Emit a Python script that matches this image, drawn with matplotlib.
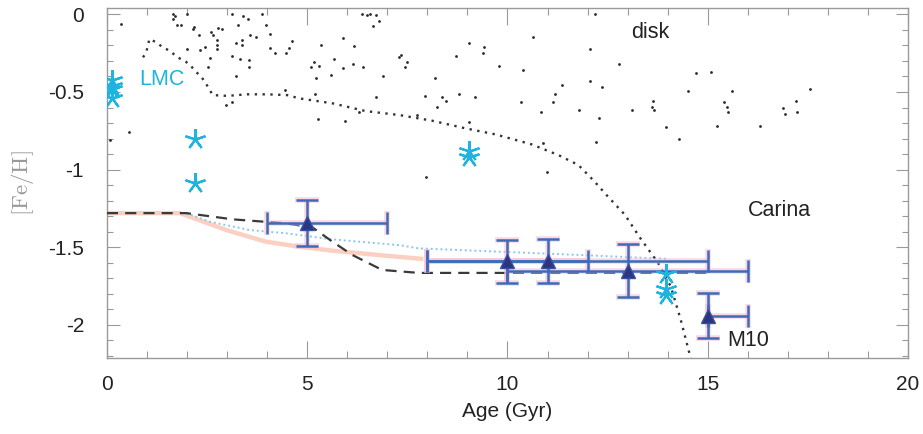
import matplotlib
matplotlib.use("Agg")
import matplotlib.pyplot as plt
from matplotlib.ticker import MultipleLocator, FixedLocator, FixedFormatter

plt.rcParams['font.family'] = ['Liberation Sans', 'DejaVu Sans']
plt.rcParams['axes.unicode_minus'] = False
plt.rcParams['mathtext.fontset'] = 'cm'

# ---------------- data ----------------
disk_age = [0.35, 1.66, 1.70, 1.99, 1.64, 1.74, 1.84, 2.17, 2.14, 2.30, 2.59, 2.64, 2.78, 2.86,
            2.74, 2.75, 2.74, 2.45, 2.32, 2.01, 2.57, 2.53, 3.11, 3.40, 3.86, 3.28, 3.51, 3.58,
            3.73, 3.96, 4.08, 3.23, 3.36, 3.37, 3.11, 3.32, 3.55, 3.54, 3.23, 4.08, 4.19, 4.63,
            4.54, 4.48, 0.54, 0.08, 2.97, 3.13, 4.44,
            6.38, 6.50, 6.58, 6.71, 6.79, 6.64, 5.90, 6.18, 5.34, 5.68, 5.17, 5.30, 5.09, 5.22,
            5.59, 5.90, 6.15, 6.40, 6.89, 7.29, 7.35, 7.50, 7.44, 6.72, 5.20, 5.26, 5.94, 6.29,
            7.74, 7.94, 8.24, 8.37, 8.47, 8.20, 8.72, 8.78, 9.04, 9.42, 9.40, 9.18, 9.04, 7.97,
            12.18, 10.65, 12.06, 12.78, 9.80, 10.40, 12.06, 11.35, 12.36, 11.19, 11.13, 10.34,
            10.83, 11.79, 12.28, 13.12, 13.63, 13.61, 13.66, 13.95, 14.28, 14.50, 14.71, 10.88,
            10.98, 12.22,
            15.08, 15.60, 15.40, 15.47, 15.51, 15.23, 16.31, 16.89, 16.92, 17.20, 17.24, 17.55]
disk_feh = [-0.062, 0.0, -0.01, 0.0, -0.032, -0.069, -0.069, -0.084, -0.095, -0.133, -0.112,
            -0.133, -0.09, -0.095, -0.165, -0.198, -0.22, -0.21, -0.23, -0.225, -0.28, -0.337,
            0.0, -0.01, 0.0, -0.069, -0.03, -0.133, -0.144, -0.069, -0.129, -0.183, -0.165,
            -0.198, -0.266, -0.288, -0.296, -0.337, -0.40, -0.215, -0.247, -0.172, -0.215,
            -0.247, -0.756, -0.81, -0.584, -0.567, -0.49,
            0.0, -0.005, 0.0, -0.005, -0.041, -0.073, -0.155, -0.206, -0.198, -0.288, -0.309,
            -0.331, -0.339, -0.408, -0.391, -0.348, -0.318, -0.337, -0.399, -0.277, -0.262,
            -0.309, -0.339, -0.535, -0.515, -0.674, -0.685, -0.631, -0.648, -0.524, -0.595,
            -0.535, -0.556, -0.412, -0.266, -0.515, -0.183, -0.208, -0.247, -0.535, -0.696,
            -1.046,
            0.0, -0.144, -0.226, -0.32, -0.331, -0.359, -0.43, -0.455, -0.47, -0.515, -0.567,
            -0.567, -0.627, -0.618, -0.666, -0.618, -0.556, -0.595, -0.614, -0.728, -0.80,
            -0.494, -0.38, -0.827, -1.013, -0.82,
            -0.37, -0.492, -0.567, -0.595, -0.627, -0.717, -0.717, -0.605, -0.644, -0.556,
            -0.627, -0.483]

model_age = [0.9, 0.98, 1.06, 1.23, 1.37, 1.53, 1.81, 1.97, 2.11, 2.22, 2.35, 2.47, 2.55, 2.64,
             3.0, 3.5, 4.0, 4.5, 4.8, 5.63, 6.46, 7.29, 8.12, 8.95, 9.70, 10.6, 11.27, 11.77,
             12.15, 12.51, 12.93, 13.34, 13.76, 14.08, 14.33, 14.54, 14.62]
model_feh = [-0.277, -0.245, -0.159, -0.18, -0.208, -0.23, -0.283, -0.305, -0.337, -0.37, -0.40,
             -0.445, -0.48, -0.52, -0.525, -0.515, -0.515, -0.52, -0.541, -0.573, -0.623,
             -0.648, -0.685, -0.734, -0.773, -0.837, -0.906, -0.97, -1.07, -1.174, -1.29,
             -1.45, -1.60, -1.754, -1.97, -2.18, -2.25]

dash_age = [0, 1.98, 3.14, 4.47, 5.13, 5.63, 6.13, 6.87, 7.79, 15.0]
dash_feh = [-1.28, -1.28, -1.32, -1.346, -1.372, -1.464, -1.55, -1.646, -1.665, -1.665]

salmon_age = [0, 1.82, 2.98, 3.97, 4.80, 5.63, 7.0, 7.9]
salmon_feh = [-1.28, -1.28, -1.389, -1.464, -1.496, -1.522, -1.555, -1.575]

blue_age = [1.98, 2.56, 3.56, 4.47, 5.63, 7.29, 7.79, 11.84, 14.0]
blue_feh = [-1.28, -1.335, -1.389, -1.41, -1.449, -1.486, -1.507, -1.55, -1.575]

star_age = [0.12, 0.12, 0.12, 0.12, 2.19, 2.19, 9.03, 9.03, 13.96, 13.96, 13.96]
star_feh = [-0.42, -0.46, -0.48, -0.54, -0.80, -1.085, -0.88, -0.92, -1.67, -1.77, -1.81]

gc_age = [5, 10, 11, 13, 15]
gc_feh = [-1.343, -1.59, -1.587, -1.65, -1.94]
gc_xlo = [1, 2, 3, 3, 0]
gc_xhi = [2, 2, 4, 3, 1]
gc_yerr = [0.148, 0.14, 0.14, 0.17, 0.143]

xticks = [0, 5, 10, 15, 20]
xlabels = ['0', '5', '10', '15', '20']
yticks = [0, -0.5, -1, -1.5, -2]
ylabels = ['0', '-0.5', '-1', '-1.5', '-2']

# ---------------- figure ----------------
fig = plt.figure(figsize=(9.23, 4.34), dpi=100)
ax = fig.add_axes([0.1159, 0.1751, 0.8678, 0.8058])

ax.plot(disk_age, disk_feh, 'o', ms=2.0, color='#2a2a2a', mec='none', zorder=2)
ax.plot(model_age, model_feh, color='#333333', lw=1.7, dashes=(1, 2.3), zorder=3)
ax.plot(salmon_age, salmon_feh, color='#fbd0c2', lw=3.2, solid_capstyle='butt', zorder=2)
ax.plot(blue_age, blue_feh, color='#8cc6ea', lw=1.4, dashes=(1, 1.5), zorder=2)
ax.plot(dash_age, dash_feh, color='#3a3a3a', lw=1.6, dashes=(5, 3.2), zorder=3)

# error bars with faint pink halo
ax.errorbar(gc_age, gc_feh, xerr=[gc_xlo, gc_xhi], yerr=gc_yerr, fmt='none',
            ecolor='#f6b7d0', elinewidth=4, capsize=8.5, capthick=4, alpha=0.55, zorder=4)
ax.errorbar(gc_age, gc_feh, xerr=[gc_xlo, gc_xhi], yerr=gc_yerr, fmt='none',
            ecolor='#3b6cb8', elinewidth=1.8, capsize=8, capthick=1.8, zorder=5)
ax.plot(gc_age, gc_feh, '^', ms=10, color='#2b3580', mec='#3b4fa0', mew=1, zorder=6)

ax.plot(star_age, star_feh, linestyle='none', marker=(5, 2, 0), ms=15, mew=1.6,
        color='#1db5e0', zorder=6)

ax.text(0.81, -0.42, 'LMC', color='#1db5e0', fontsize=15.5, va='center', ha='left')
ax.text(13.1, -0.12, 'disk', color='#222222', fontsize=15.5, va='center', ha='left')
ax.text(16.0, -1.26, 'Carina', color='#222222', fontsize=15.5, va='center', ha='left')
ax.text(15.5, -2.1, 'M10', color='#222222', fontsize=15.5, va='center', ha='left')

ax.set_xlim(0, 20)
ax.set_ylim(-2.213, 0.039)
ax.xaxis.set_major_locator(FixedLocator(xticks))
ax.xaxis.set_major_formatter(FixedFormatter(xlabels))
ax.xaxis.set_minor_locator(MultipleLocator(1))
ax.yaxis.set_major_locator(FixedLocator(yticks))
ax.yaxis.set_major_formatter(FixedFormatter(ylabels))
ax.yaxis.set_minor_locator(MultipleLocator(0.1))

ax.tick_params(which='both', direction='in', top=True, right=True, color='#999999',
               width=0.8, labelsize=15, labelcolor='#222222')
ax.tick_params(axis='x', which='major', length=12, pad=12)
ax.tick_params(axis='x', which='minor', length=5)
ax.tick_params(axis='y', which='major', length=9, pad=16.5)
ax.tick_params(axis='y', which='minor', length=4)
for s in ax.spines.values():
    s.set_color('#9a9a9a')
    s.set_linewidth(1.0)

ax.set_xlabel('Age (Gyr)', fontsize=15, color='#222222', labelpad=6)
ax.set_ylabel(r'$\mathrm{[Fe/H]}$', fontsize=16.5, color='#999999', labelpad=9)

fig.savefig('out.png', dpi=100)
